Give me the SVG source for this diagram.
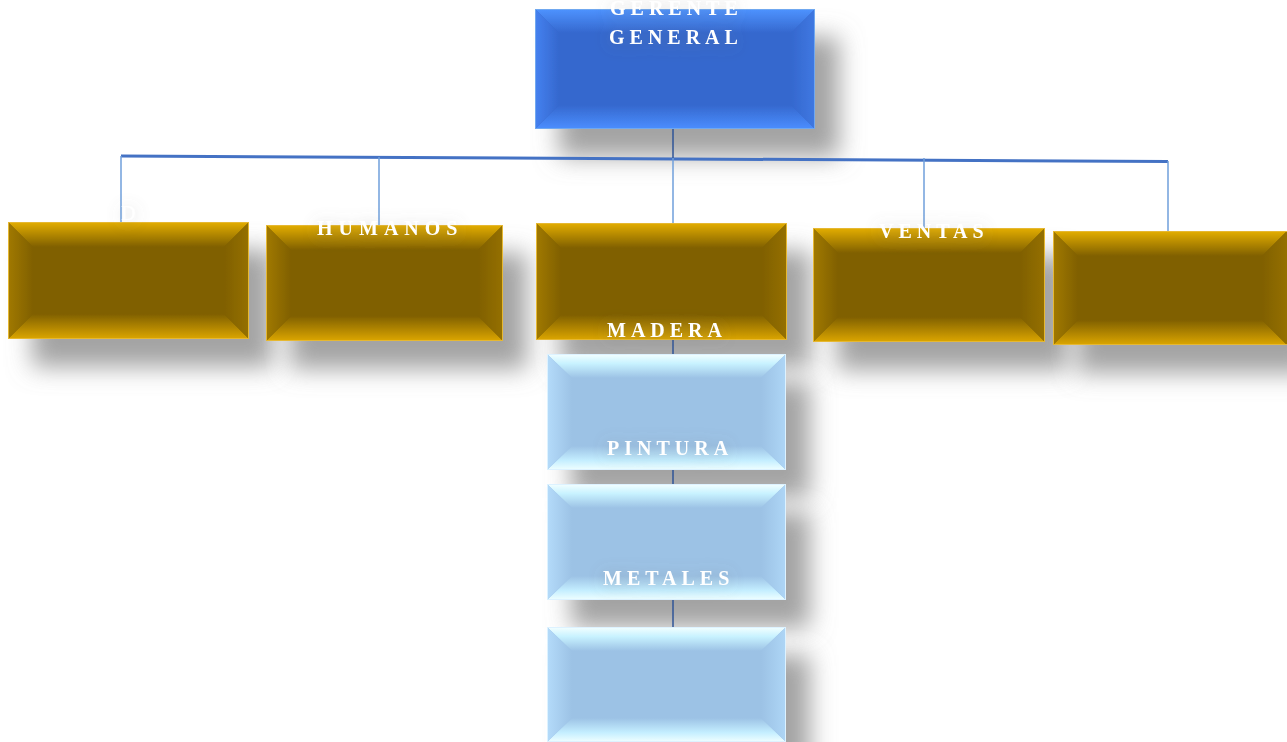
<svg xmlns="http://www.w3.org/2000/svg" width="1287" height="742" viewBox="0 0 1287 742">
<defs>
<filter id="sh" x="-30%" y="-30%" width="170%" height="200%">
<feDropShadow dx="24" dy="28" stdDeviation="12" flood-color="#939393" flood-opacity="0.85"/>
</filter>
<filter id="tsh" x="-30%" y="-100%" width="160%" height="300%">
<feDropShadow dx="0" dy="2" stdDeviation="8" flood-color="#707070" flood-opacity="0.4"/>
</filter>
<linearGradient id="bT" x1="0" y1="0" x2="0" y2="1"><stop offset="0" stop-color="#4E93FF"/><stop offset="1" stop-color="#3568CE"/></linearGradient>
<linearGradient id="bB" x1="0" y1="1" x2="0" y2="0"><stop offset="0" stop-color="#4B8EFF"/><stop offset="1" stop-color="#3568CE"/></linearGradient>
<linearGradient id="bL" x1="0" y1="0" x2="1" y2="0"><stop offset="0" stop-color="#4581F0"/><stop offset="1" stop-color="#3568CE"/></linearGradient>
<linearGradient id="bR" x1="1" y1="0" x2="0" y2="0"><stop offset="0" stop-color="#3F78E2"/><stop offset="1" stop-color="#3568CE"/></linearGradient>
<linearGradient id="oT" x1="0" y1="0" x2="0" y2="1"><stop offset="0" stop-color="#E4AE00"/><stop offset="1" stop-color="#806000"/></linearGradient>
<linearGradient id="oB" x1="0" y1="1" x2="0" y2="0"><stop offset="0" stop-color="#DCA600"/><stop offset="1" stop-color="#806000"/></linearGradient>
<linearGradient id="oL" x1="0" y1="0" x2="1" y2="0"><stop offset="0" stop-color="#A17900"/><stop offset="1" stop-color="#806000"/></linearGradient>
<linearGradient id="oR" x1="1" y1="0" x2="0" y2="0"><stop offset="0" stop-color="#957000"/><stop offset="1" stop-color="#806000"/></linearGradient>
<linearGradient id="lT" x1="0" y1="0" x2="0" y2="1"><stop offset="0" stop-color="#F4FFFF"/><stop offset="0.4" stop-color="#C8F2FF"/><stop offset="1" stop-color="#9CC2E5"/></linearGradient>
<linearGradient id="lB" x1="0" y1="1" x2="0" y2="0"><stop offset="0" stop-color="#F0FFFF"/><stop offset="0.4" stop-color="#C4EEFF"/><stop offset="1" stop-color="#9CC2E5"/></linearGradient>
<linearGradient id="lL" x1="0" y1="0" x2="1" y2="0"><stop offset="0" stop-color="#B4DBFA"/><stop offset="1" stop-color="#9CC2E5"/></linearGradient>
<linearGradient id="lR" x1="1" y1="0" x2="0" y2="0"><stop offset="0" stop-color="#AED6F6"/><stop offset="1" stop-color="#9CC2E5"/></linearGradient>
</defs>
<style>
.t{font-family:"Liberation Serif","Times New Roman",serif;font-size:20px;fill:#ffffff;letter-spacing:5px}
.b{font-weight:bold}
.blue .f{fill:#3568CE}.blue .T{fill:url(#bT)}.blue .B{fill:url(#bB)}.blue .L{fill:url(#bL)}.blue .R{fill:url(#bR)}
.gold .f{fill:#806000}.gold .T{fill:url(#oT)}.gold .B{fill:url(#oB)}.gold .L{fill:url(#oL)}.gold .R{fill:url(#oR)}
.lite .f{fill:#9CC2E5}.lite .T{fill:url(#lT)}.lite .B{fill:url(#lB)}.lite .L{fill:url(#lL)}.lite .R{fill:url(#lR)}
.blue .e{fill:none;stroke:#6FA8F0;stroke-width:1}
.gold .e{fill:none;stroke:#E6B833;stroke-width:1}
.lite .e{fill:none;stroke:#DDF2FF;stroke-width:1}
.main{stroke:#4472C4;stroke-width:3;fill:none}
.drop{stroke:#6F9FDB;stroke-width:1.5;fill:none}
.dk{stroke:#2F5597;stroke-width:1.5;fill:none}
</style>

<g id="node-gerente" class="blue" filter="url(#sh)">
<rect class="f" x="535" y="9" width="280" height="120"/>
<polygon class="T" points="535,9 815,9 791,33 559,33"/>
<polygon class="B" points="535,129 815,129 791,105 559,105"/>
<polygon class="L" points="535,9 559,33 559,105 535,129"/>
<polygon class="R" points="815,9 791,33 791,105 815,129"/>
<rect class="e" x="535.5" y="9.5" width="279" height="119"/>
</g>

<g id="node-1" class="gold" filter="url(#sh)">
<rect class="f" x="8" y="222" width="241" height="117"/>
<polygon class="T" points="8,222 249,222 224,247 33,247"/>
<polygon class="B" points="8,339 249,339 224,314 33,314"/>
<polygon class="L" points="8,222 33,247 33,314 8,339"/>
<polygon class="R" points="249,222 224,247 224,314 249,339"/>
<rect class="e" x="8.5" y="222.5" width="240" height="116"/>
</g>

<g id="node-2" class="gold" filter="url(#sh)">
<rect class="f" x="266" y="225" width="237" height="116"/>
<polygon class="T" points="266,225 503,225 478,250 291,250"/>
<polygon class="B" points="266,341 503,341 478,316 291,316"/>
<polygon class="L" points="266,225 291,250 291,316 266,341"/>
<polygon class="R" points="503,225 478,250 478,316 503,341"/>
<rect class="e" x="266.5" y="225.5" width="236" height="115"/>
</g>

<g id="node-3" class="gold" filter="url(#sh)">
<rect class="f" x="536" y="223" width="251" height="117"/>
<polygon class="T" points="536,223 787,223 762,248 561,248"/>
<polygon class="B" points="536,340 787,340 762,315 561,315"/>
<polygon class="L" points="536,223 561,248 561,315 536,340"/>
<polygon class="R" points="787,223 762,248 762,315 787,340"/>
<rect class="e" x="536.5" y="223.5" width="250" height="116"/>
</g>

<g id="node-4" class="gold" filter="url(#sh)">
<rect class="f" x="813" y="228" width="232" height="114"/>
<polygon class="T" points="813,228 1045,228 1020,253 838,253"/>
<polygon class="B" points="813,342 1045,342 1020,317 838,317"/>
<polygon class="L" points="813,228 838,253 838,317 813,342"/>
<polygon class="R" points="1045,228 1020,253 1020,317 1045,342"/>
<rect class="e" x="813.5" y="228.5" width="231" height="113"/>
</g>

<g id="node-5" class="gold" filter="url(#sh)">
<rect class="f" x="1053" y="231" width="234" height="114"/>
<polygon class="T" points="1053,231 1287,231 1262,256 1078,256"/>
<polygon class="B" points="1053,345 1287,345 1262,320 1078,320"/>
<polygon class="L" points="1053,231 1078,256 1078,320 1053,345"/>
<polygon class="R" points="1287,231 1262,256 1262,320 1287,345"/>
<rect class="e" x="1053.5" y="231.5" width="234" height="113"/>
</g>

<g id="node-pintura" class="lite" filter="url(#sh)">
<rect class="f" x="547" y="354" width="239" height="116"/>
<polygon class="T" points="547,354 786,354 761,378 572,378"/>
<polygon class="B" points="547,470 786,470 761,446 572,446"/>
<polygon class="L" points="547,354 572,378 572,446 547,470"/>
<polygon class="R" points="786,354 761,378 761,446 786,470"/>
<rect class="e" x="547.5" y="354.5" width="238" height="115"/>
</g>

<g id="node-metales" class="lite" filter="url(#sh)">
<rect class="f" x="547" y="484" width="239" height="116"/>
<polygon class="T" points="547,484 786,484 761,508 572,508"/>
<polygon class="B" points="547,600 786,600 761,576 572,576"/>
<polygon class="L" points="547,484 572,508 572,576 547,600"/>
<polygon class="R" points="786,484 761,508 761,576 786,600"/>
<rect class="e" x="547.5" y="484.5" width="238" height="115"/>
</g>

<g id="node-7" class="lite" filter="url(#sh)">
<rect class="f" x="547" y="627" width="239" height="115"/>
<polygon class="T" points="547,627 786,627 761,651 572,651"/>
<polygon class="B" points="547,742 786,742 761,718 572,718"/>
<polygon class="L" points="547,627 572,651 572,718 547,742"/>
<polygon class="R" points="786,627 761,651 761,718 786,742"/>
<rect class="e" x="547.5" y="627.5" width="238" height="114"/>
</g>

<g id="connectors">
<line class="main" x1="121" y1="156" x2="1168" y2="161.5"/>
<line class="dk" x1="673" y1="129" x2="673" y2="158"/>
<line class="drop" x1="121" y1="156" x2="121" y2="222"/>
<line class="drop" x1="379" y1="157" x2="379" y2="225"/>
<line class="drop" x1="673" y1="158" x2="673" y2="223"/>
<line class="drop" x1="924" y1="158" x2="924" y2="228"/>
<line class="drop" x1="1168" y1="161" x2="1168" y2="231"/>
<line class="dk" x1="673" y1="340" x2="673" y2="354"/>
<line class="dk" x1="673" y1="470" x2="673" y2="484"/>
<line class="dk" x1="673" y1="600" x2="673" y2="627"/>
</g>

<g id="labels" filter="url(#tsh)">
<text class="t b" x="610" y="15">GERENTE</text>
<text class="t b" x="609" y="44">GENERAL</text>
<text class="t" x="121" y="220">D</text>
<text class="t" x="317" y="235" style="letter-spacing:6px;font-weight:600">HUMANOS</text>
<text class="t b" x="607" y="337">MADERA</text>
<text class="t b" x="879" y="238">VENTAS</text>
<text class="t b" x="607" y="455">PINTURA</text>
<text class="t b" x="603" y="585">METALES</text>
</g>
</svg>
